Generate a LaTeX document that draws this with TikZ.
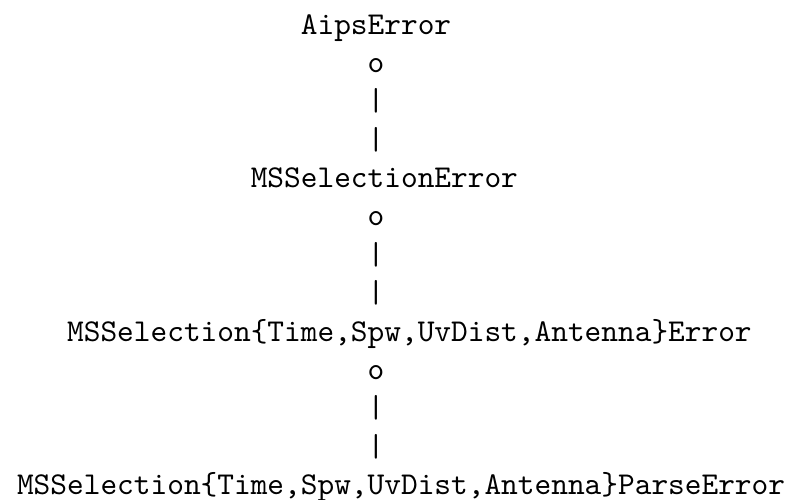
\documentclass[tikz,border=0pt]{standalone}
\usepackage{tikz}
\tikzset{
  every picture/.style={line join=round, line cap=round},
  cls/.style={font=\ttfamily, inner sep=0pt, anchor=base west},
}

\begin{document}
\begin{tikzpicture}[x=5.25pt,y=-12.07pt]
\useasboundingbox (-5.16pt,10.7pt) rectangle (242.3pt,-146.4pt);
% class names, one per row of the listing
\node[cls] (aips) at (17,0) {AipsError};
\node[cls] (mssel) at (14,4) {MSSelectionError};
\node[cls] (msselx) at (3,8) {MSSelection\{Time,Spw,UvDist,Antenna\}Error};
\node[cls] (msselparse) at (0,12) {MSSelection\{Time,Spw,UvDist,Antenna\}ParseError};
% inheritance links: o | |
\node[cls] (aipsO) at (21,1) {o};
\node[cls] (aipsBarA) at (21,2) {|};
\node[cls] (aipsBarB) at (21,3) {|};
\node[cls] (msselO) at (21,5) {o};
\node[cls] (msselBarA) at (21,6) {|};
\node[cls] (msselBarB) at (21,7) {|};
\node[cls] (msselxO) at (21,9) {o};
\node[cls] (msselxBarA) at (21,10) {|};
\node[cls] (msselxBarB) at (21,11) {|};
\end{tikzpicture}
\end{document}
